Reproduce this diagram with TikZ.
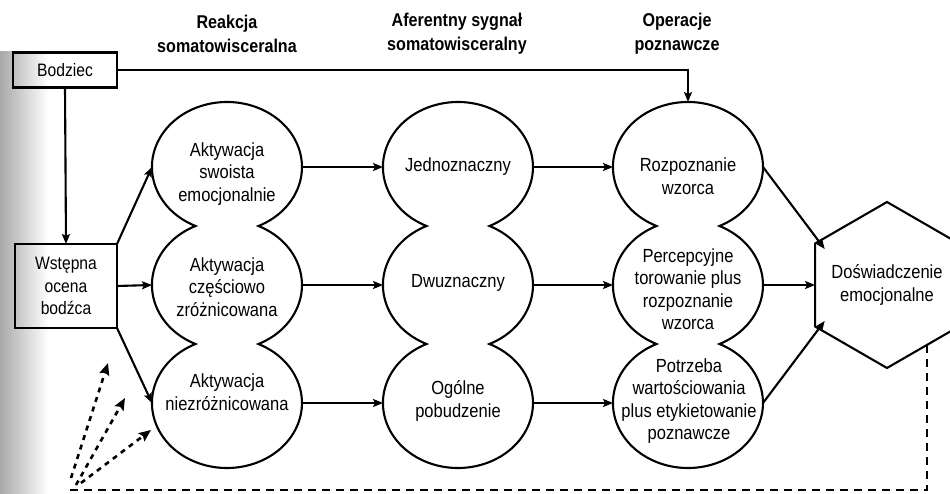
\documentclass[tikz,border=0pt]{standalone}
\usepackage{fontspec}
\setmainfont{Liberation Sans}[FakeStretch=0.87]
\usetikzlibrary{arrows.meta,shapes.geometric,calc}

% outline of one column of three overlapping ellipses (union only);
% #1 = centre x, #2 = centre y of the top ellipse, spacing 118
\newcommand\drawcolumn[2]{%
  \draw[outline] (#1-31.5,#2+59)
    arc[start angle=245.2, end angle=-65.2, x radius=75pt, y radius=65pt]
    arc[start angle=65.2, end angle=-65.2, x radius=75pt, y radius=65pt]
    arc[start angle=65.2, end angle=-245.2, x radius=75pt, y radius=65pt]
    arc[start angle=-114.8, end angle=-245.2, x radius=75pt, y radius=65pt]
    -- cycle;}

\begin{document}
\begin{tikzpicture}[x=1pt, y=-1pt,
  txt/.style={font=\fontsize{19}{22.5}\selectfont, align=center, inner sep=0pt},
  boxtxt/.style={font=\fontsize{18}{22.5}\selectfont, align=center},
  head/.style={font=\fontsize{18.5}{24}\selectfont\bfseries, align=center, inner sep=0pt},
  blob/.style={ellipse, minimum width=150pt, minimum height=130pt, inner sep=0pt, outer sep=0pt},
  box/.style={draw, line width=2.6pt, inner sep=0pt, outer sep=0pt, boxtxt},
  outline/.style={line width=2.1pt},
  arr/.style={line width=2.1pt, -{Stealth[length=10pt, width=8pt, inset=2pt]}},
  feed/.style={line width=2.6pt, dash pattern=on 8pt off 6pt},
  fan/.style={line width=2.6pt, dash pattern=on 5pt off 5pt,
              -{Stealth[length=12pt, width=10pt, inset=2pt]}}
]
\useasboundingbox (0,0) rectangle (950,494);

% grey haze along the left margin
\shade[left color=black!34, right color=white] (0,52) rectangle (48,494);

% column headings
\node[head] (h1) at (227,34) {Reakcja\\somatowisceralna};
\node[head] (h2) at (457,34) {Aferentny sygnał\\somatowisceralny};
\node[head] (h3) at (677,34) {Operacje\\poznawcze};

% input boxes
\node[box, minimum width=104pt, minimum height=35pt] (bodz) at (65,70) {Bodziec};
\node[box, minimum width=102pt, minimum height=84pt] (wst) at (66,286) {Wstępna\\ocena\\bodźca};

% ellipse anchors of the three columns
\foreach \c/\x in {l/227, m/458, r/688}{
  \node[blob] (\c1) at (\x,167) {};
  \node[blob] (\c2) at (\x,285) {};
  \node[blob] (\c3) at (\x,403) {};
}
\drawcolumn{227}{167}
\drawcolumn{458}{167}
\drawcolumn{688}{167}

% texts inside the columns
\node[txt] (l1t) at (227,174) {Aktywacja\\swoista\\emocjonalnie};
\node[txt] (l2t) at (227,287) {Aktywacja\\częściowo\\zróżnicowana};
\node[txt] (l3t) at (227,392) {Aktywacja\\niezróżnicowana};
\node[txt] (m1t) at (458,167) {Jednoznaczny};
\node[txt] (m2t) at (458,283) {Dwuznaczny};
\node[txt] (m3t) at (458,401) {Ogólne\\pobudzenie};
\node[txt] (r1t) at (688,176) {Rozpoznanie\\wzorca};
\node[txt] (r2t) at (688,289) {Percepcyjne\\torowanie plus\\rozpoznanie\\wzorca};
\node[txt] (r3t) at (689,401) {Potrzeba\\wartościowania\\plus etykietowanie\\poznawcze};

% emotional experience hexagon
\node[txt] (hex) at (887,285) {Doświadczenie\\emocjonalne};
\draw[outline] ($(hex)+(90:83pt)$) -- ($(hex)+(150:83pt)$) -- ($(hex)+(210:83pt)$)
  -- ($(hex)+(270:83pt)$) -- ($(hex)+(330:83pt)$) -- ($(hex)+(30:83pt)$) -- cycle;
\coordinate (hexUL) at ($(hex)+(150:71.9pt)$);
\coordinate (hexL)  at ($(hex)+(180:71.9pt)$);
\coordinate (hexLL) at ($(hex)+(210:71.9pt)$);
\coordinate (fbA)   at ($(hex)+(40pt,-60pt)$);

% solid connectors
\draw[arr, line width=2.7pt] (bodz.east) -| (r1.north);
\draw[arr] (bodz.south) -- (wst.north);
\draw[arr] (wst.north east) -- (l1.west);
\draw[arr] (wst.east) -- (l2.west);
\draw[arr] (wst.south east) -- (l3.west);
\foreach \i in {1,2,3}{
  \draw[arr] (l\i.east) -- (m\i.west);
  \draw[arr] (m\i.east) -- (r\i.west);
}
\draw[arr] (r1.east) -- (hexUL);
\draw[arr] (r2.east) -- (hexL);
\draw[arr] (r3.east) -- (hexLL);

% feedback loop
\coordinate (fbC) at (67,490);
\draw[feed] (fbA) |- (fbC);
\coordinate (d1s) at (71,478);
\coordinate (d2s) at (76,485);
\coordinate (d3s) at (81,483);
\coordinate (d1e) at (108,363);
\coordinate (d2e) at (125,398);
\coordinate (d3e) at (151,430);
\draw[fan] (d1s) -- (d1e);
\draw[fan] (d2s) -- (d2e);
\draw[fan] (d3s) -- (d3e);
\end{tikzpicture}
\end{document}
